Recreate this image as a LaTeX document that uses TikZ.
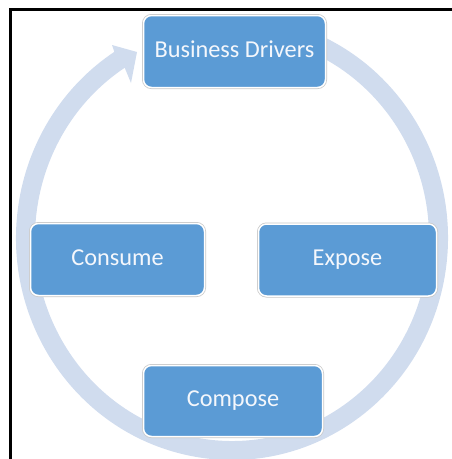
\documentclass[tikz,border=0pt]{standalone}
\usepackage{fontspec}
\setmainfont{Carlito}
\definecolor{boxblue}{RGB}{91,155,213}
\definecolor{ringblue}{RGB}{208,220,238}
\definecolor{txtwhite}{RGB}{244,247,252}
\begin{document}
\begin{tikzpicture}[x=1pt,y=1pt,
  stagebox/.style={rectangle, rounded corners=8pt, fill=boxblue, draw=white,
    line width=1.5pt, preaction={draw=black!22, line width=3pt},
    text=txtwhite, font=\fontsize{24.3}{28}\selectfont, inner sep=0pt,
    text height=15.6pt, text depth=4pt}]
\useasboundingbox (0,0) rectangle (451,-459);
% frame
\draw[line width=2.5pt, line cap=rect] (10.7,-459) -- (10.7,-9.5) -- (451,-9.5);
% ring arrow
\coordinate (C) at (232,-238);
\coordinate (headout) at (112,-45);
\coordinate (headtip) at (137,-52);
\coordinate (headin) at (131,-83);
\fill[ringblue] ([shift={(80:216 and 222)}]C) arc[start angle=80, end angle=-237, x radius=216, y radius=222]
  -- (headout) -- (headtip) -- (headin)
  -- ([shift={(-237:197 and 203)}]C) arc[start angle=-237, end angle=80, x radius=197, y radius=203] -- cycle;
% stages
\node[stagebox, minimum width=182pt, minimum height=72pt] (bd) at (234.5,-51.5) {Business Drivers};
\node[stagebox, minimum width=174pt, minimum height=72pt] (consume) at (117.5,-259.5) {Consume};
\node[stagebox, minimum width=178pt, minimum height=72pt] (expose) at (347.5,-260) {Expose};
\node[stagebox, minimum width=179pt, minimum height=71pt] (compose) at (233,-401) {Compose};
\end{tikzpicture}
\end{document}
